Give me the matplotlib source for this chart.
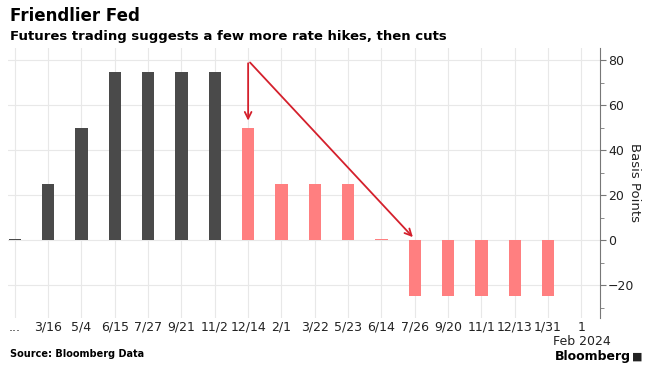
import matplotlib.pyplot as plt
from matplotlib.ticker import MultipleLocator
from matplotlib.transforms import blended_transform_factory

# meeting dates (x tick labels) and implied change in basis points
labels = ['...', '3/16', '5/4', '6/15', '7/27', '9/21', '11/2', '12/14', '2/1',
          '3/22', '5/23', '6/14', '7/26', '9/20', '11/1', '12/13', '1/31', '1']
year_label = 'Feb 2024'
past_bp = [0.4, 25, 50, 75, 75, 75, 75]
future_bp = [50, 25, 25, 25, 0.4, -25, -25, -25, -25, -25]

DARK = '#4a4a4a'
PINK = '#ff7f80'
RED = '#d4202c'

fig = plt.figure(figsize=(6.54, 3.70), dpi=100)
ax = fig.add_axes([0.012, 0.141, 0.905, 0.729])

x_past = list(range(len(past_bp)))
x_future = list(range(len(past_bp), len(past_bp) + len(future_bp)))
ax.bar(x_past, past_bp, width=0.37, color=DARK, zorder=3)
ax.bar(x_future, future_bp, width=0.37, color=PINK, zorder=3)

# arrows from the 12/14 meeting
start = (x_future[0], 80)
ax.annotate('', xy=(x_future[0], future_bp[0] + 2), xytext=start,
            arrowprops=dict(arrowstyle='->', color=RED, lw=1.3, mutation_scale=12), zorder=4)
ax.annotate('', xy=(x_future[5], 0.5), xytext=start,
            arrowprops=dict(arrowstyle='->', color=RED, lw=1.3, mutation_scale=12), zorder=4)

ax.set_xlim(-0.21, 17.55)
ax.set_ylim(-34.5, 85.5)
ax.set_xticks(range(len(labels)))
ax.set_xticklabels(labels, fontsize=9, color='#222222')
trans = blended_transform_factory(ax.transData, fig.transFigure)
ax.text(len(labels) - 1, 0.077, year_label, transform=trans, fontsize=9,
        color='#222222', ha='center', va='center')
ax.yaxis.tick_right()
ax.yaxis.set_label_position('right')
ax.set_yticks([-20, 0, 20, 40, 60, 80])
ax.yaxis.set_minor_locator(MultipleLocator(10))
ax.tick_params(axis='y', which='major', length=4, color='#777777', labelsize=9,
               labelcolor='#222222', pad=2)
ax.tick_params(axis='y', which='minor', length=3, color='#777777')
ax.tick_params(axis='x', length=0, pad=2)
ax.set_ylabel('Basis Points', rotation=270, fontsize=9.5, color='#222222', labelpad=5)

for s in ['top', 'left', 'bottom']:
    ax.spines[s].set_visible(False)
ax.spines['right'].set_color('#777777')
ax.grid(True, color='#e8e8e8', lw=0.8, zorder=0)
ax.set_axisbelow(True)

fig.text(0.015, 0.957, 'Friendlier Fed', fontsize=12, fontweight='bold', va='center')
fig.text(0.015, 0.902, 'Futures trading suggests a few more rate hikes, then cuts',
         fontsize=9.5, fontweight='bold', va='center')
fig.text(0.015, 0.043, 'Source: Bloomberg Data', fontsize=7, fontweight='bold', va='center')
fig.text(0.965, 0.037, 'Bloomberg', fontsize=9, fontweight='bold', va='center', ha='right')
fig.text(0.975, 0.037, '\u25a0', fontsize=8, va='center', ha='center', color='#222222')

fig.savefig('out.png', dpi=100)
